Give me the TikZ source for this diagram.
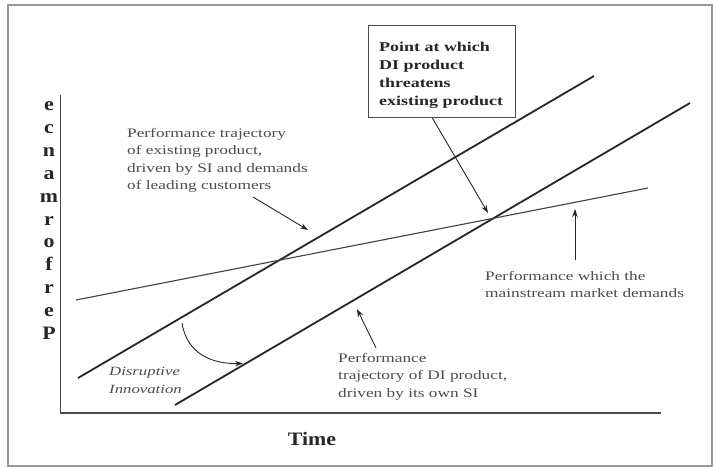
\documentclass[tikz,border=0pt]{standalone}
\usepackage{fontspec}
\setmainfont{Liberation Serif}
\newfontfamily\labfont[FakeStretch=1.33]{Liberation Serif}
\newfontfamily\bigfont[FakeStretch=1.15]{Liberation Serif}
\usetikzlibrary{arrows.meta,calc}
\tikzset{
  frame/.style={draw=black!40, line width=1.8pt},
  axis/.style={draw=black!70, line width=1.4pt},
  traj/.style={draw=black!85, line width=1.8pt},
  demand/.style={draw=black!75, line width=1.1pt},
  pointer/.style={draw=black!85, line width=0.9pt, -{Stealth[length=8pt,width=5.5pt]}},
  lab/.style={text=black!70, font=\labfont\fontsize{13}{17.5}\selectfont, align=left, anchor=north west, inner sep=0pt},
  ilab/.style={lab, font=\labfont\itshape\fontsize{12.6}{17.5}\selectfont},
  boxframe/.style={draw=black!70, line width=1.1pt, fill=white, anchor=north west, minimum width=147pt, minimum height=92pt, inner sep=0pt},
  boxtext/.style={text=black!85, font=\labfont\bfseries\fontsize{13.5}{18}\selectfont, align=left, anchor=north west, inner sep=0pt},
  ylet/.style={text=black!85, font=\bigfont\bfseries\fontsize{19}{19}\selectfont, anchor=base, inner sep=0pt},
  timel/.style={text=black!85, font=\bigfont\bfseries\fontsize{19}{19}\selectfont, anchor=base, inner sep=0pt}
}
\begin{document}
\begin{tikzpicture}[x=1pt,y=-1pt]
\useasboundingbox (0,0) rectangle (713,467);
\draw[frame] (8,5) rectangle (712,466);

% axes
\coordinate (yt) at (60.5,95);
\coordinate (o) at (60.5,413);
\coordinate (xe) at (661,413);
\draw[axis] (yt) -- (o) -- (xe);

% trajectories
\coordinate (a1) at (78,378);  \coordinate (a2) at (594,76);
\coordinate (b1) at (175,405); \coordinate (b2) at (690,103);
\coordinate (c1) at (76,300);  \coordinate (c2) at (648,188);
\draw[traj] (a1) -- (a2);
\draw[traj] (b1) -- (b2);
\draw[demand] (c1) -- (c2);
\coordinate (Xa) at (488,213);

% box
\node[boxframe] (box) at (368,25) {};
\node[boxtext] (boxt) at (379,42.3) {Point at which\\DI product\\threatens\\existing product};
\draw[pointer] ($(box.south west)!0.435!(box.south east)$) -- (Xa);

% labels
\node[lab] (l1) at (127,128.1) {Performance trajectory\\of existing product,\\driven by SI and demands\\of leading customers};
\coordinate (p1s) at (253,197); \coordinate (p1e) at (308,230);
\draw[pointer] (p1s) -- (p1e);

\node[lab] (l2) at (485,271.1) {Performance which the\\mainstream market demands};
\coordinate (p2s) at (575,260); \coordinate (p2e) at (575,209);
\draw[pointer] (p2s) -- (p2e);

\node[lab] (l3) at (338,353.1) {Performance\\trajectory of DI product,\\driven by its own SI};
\coordinate (p3s) at (376,348); \coordinate (p3e) at (357,309);
\draw[pointer] (p3s) -- (p3e);

\node[ilab] (di) at (109,367) {Disruptive\\Innovation};
\coordinate (cs) at (182,323); \coordinate (ce) at (243,363.5);
\draw[pointer] (cs) .. controls (187,354) and (212,364) .. (ce);

% axis titles
\foreach \l [count=\i from 0] in {e,c,n,a,m,r,o,f,r,e,P}
  \node[ylet] (y\i) at (49,{110.5+22.9*\i}) {\l};
\node[timel] (time) at (312,445) {Time};
\end{tikzpicture}
\end{document}
